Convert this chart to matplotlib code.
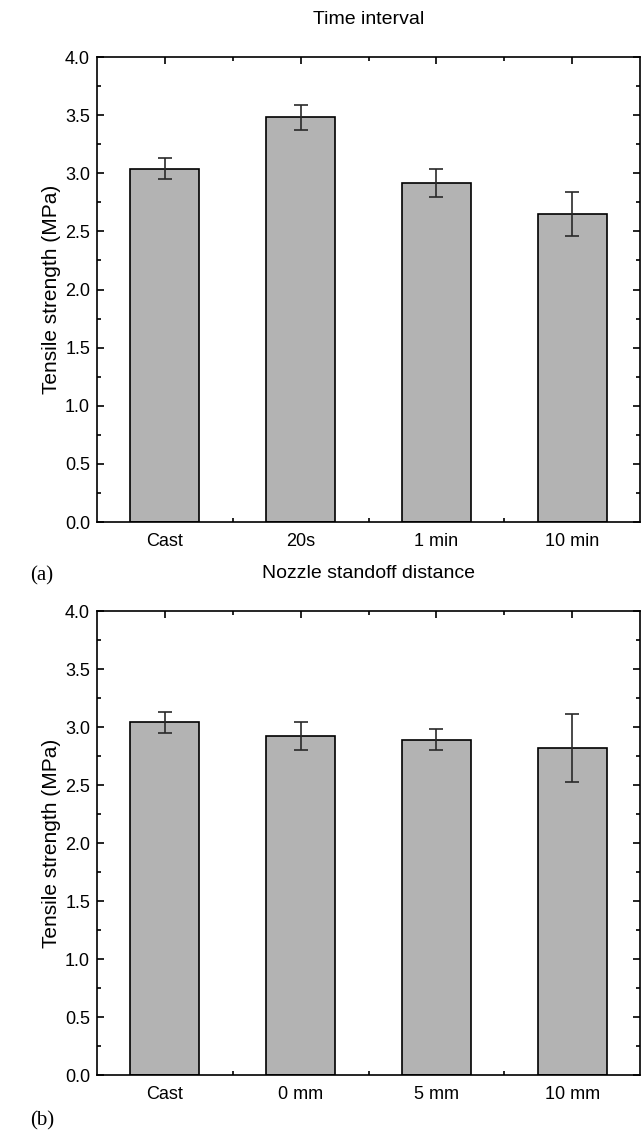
import numpy as np
import matplotlib.pyplot as plt
from matplotlib.ticker import MultipleLocator, FixedLocator

# data
labels_a = ['Cast', '20s', '1 min', '10 min']
strength_a = [3.04, 3.48, 2.92, 2.65]
err_a = [0.09, 0.11, 0.12, 0.19]

labels_b = ['Cast', '0 mm', '5 mm', '10 mm']
strength_b = [3.04, 2.92, 2.89, 2.82]
err_b = [0.09, 0.12, 0.09, 0.29]

titles = ['Time interval', 'Nozzle standoff distance']
panel_tags = ['(a)', '(b)']

plt.rcParams['font.family'] = ['Liberation Sans', 'DejaVu Sans']

fig = plt.figure(figsize=(6.44, 11.33), dpi=100)
W, H = 644, 1133
boxes = [(97, 57, 640, 522), (97, 611, 640, 1075)]
tag_y = [576, 1121]

panels = [(labels_a, strength_a, err_a), (labels_b, strength_b, err_b)]
for i, (labels, vals, errs) in enumerate(panels):
    x0, y0, x1, y1 = boxes[i]
    ax = fig.add_axes([x0 / W, 1 - y1 / H, (x1 - x0) / W, (y1 - y0) / H])
    x = np.arange(len(labels))
    ax.bar(x, vals, width=0.51, color='#b3b3b3', edgecolor='black', linewidth=1.2, zorder=2)
    ax.errorbar(x, vals, yerr=errs, fmt='none', ecolor='#2a2a2a', elinewidth=1.2,
                capsize=5, capthick=1.2, zorder=3)
    ax.set_xlim(-0.5, 3.5)
    ax.set_ylim(0, 4.0)
    ax.set_xticks(x)
    ax.set_xticklabels(labels)
    ax.xaxis.set_minor_locator(FixedLocator([0.5, 1.5, 2.5]))
    ax.yaxis.set_major_locator(MultipleLocator(0.5))
    ax.yaxis.set_minor_locator(MultipleLocator(0.25))
    ax.yaxis.set_major_formatter(plt.FormatStrFormatter('%.1f'))
    ax.tick_params(which='both', direction='in', top=True, right=True,
                   labelsize=13, width=1.2)
    ax.tick_params(which='major', length=5, pad=5)
    ax.tick_params(which='minor', length=3)
    ax.tick_params(axis='x', which='major', pad=8)
    for s in ax.spines.values():
        s.set_linewidth(1.2)
    ax.set_ylabel('Tensile strength (MPa)', fontsize=15, labelpad=3)
    ax.set_title(titles[i], fontsize=14, pad=24)
    fig.text(42 / W, 1 - tag_y[i] / H, panel_tags[i], fontsize=15,
             family='Liberation Serif', ha='center', va='center')

fig.savefig('out.png', dpi=100)
